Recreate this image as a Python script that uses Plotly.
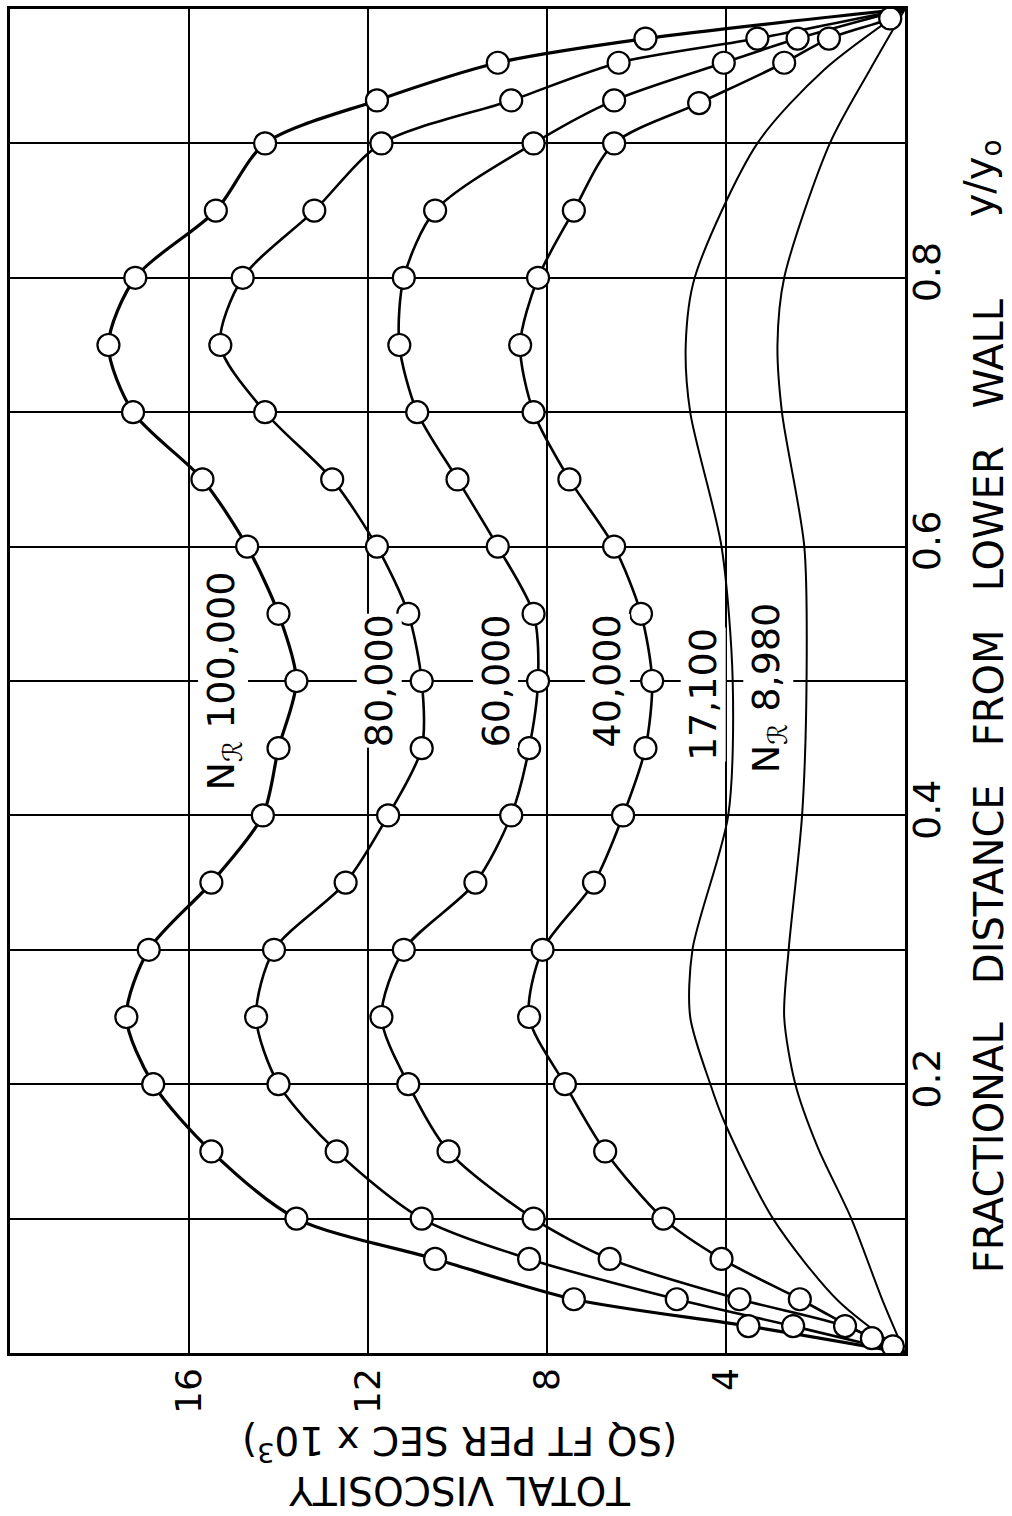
import plotly.graph_objects as go

# ---------------- data ----------------
# Fractional distance from lower wall (y/y0) and total viscosity (sq ft per sec x 10^3)
y_100k = [0.02, 0.04, 0.07, 0.10, 0.15, 0.20, 0.25, 0.30, 0.35, 0.40, 0.45, 0.50,
          0.55, 0.60, 0.65, 0.70, 0.75, 0.80, 0.85, 0.90, 0.932, 0.96, 0.978]
v_100k = [3.5, 7.4, 10.5, 13.6, 15.5, 16.8, 17.4, 16.9, 15.5, 14.35, 14.0, 13.6,
          14.0, 14.7, 15.7, 17.25, 17.8, 17.2, 15.4, 14.3, 11.8, 9.1, 5.8]

y_80k = [0.02, 0.04, 0.07, 0.10, 0.15, 0.20, 0.25, 0.30, 0.35, 0.40, 0.45, 0.50,
         0.55, 0.60, 0.65, 0.70, 0.75, 0.80, 0.85, 0.90, 0.932, 0.96, 0.978]
v_80k = [2.5, 5.1, 8.4, 10.8, 12.7, 14.0, 14.5, 14.1, 12.5, 11.55, 10.8, 10.8,
         11.1, 11.8, 12.8, 14.3, 15.3, 14.8, 13.2, 11.7, 8.8, 6.4, 3.3]

y_60k = [0.02, 0.04, 0.07, 0.10, 0.15, 0.20, 0.25, 0.30, 0.35, 0.40, 0.45, 0.50,
         0.55, 0.60, 0.65, 0.70, 0.75, 0.80, 0.85, 0.90, 0.932, 0.96, 0.978]
v_60k = [1.34, 3.7, 6.6, 8.3, 10.2, 11.1, 11.7, 11.2, 9.6, 8.8, 8.4, 8.2,
         8.3, 9.1, 10.0, 10.9, 11.3, 11.2, 10.5, 8.3, 6.5, 4.05, 2.4]

y_40k = [0.005, 0.011, 0.04, 0.07, 0.10, 0.15, 0.20, 0.25, 0.30, 0.35, 0.40, 0.45, 0.50,
         0.55, 0.60, 0.65, 0.70, 0.75, 0.80, 0.85, 0.90, 0.93, 0.96, 0.978, 0.993]
v_40k = [0.27, 0.74, 2.35, 4.1, 5.4, 6.7, 7.6, 8.4, 8.1, 6.95, 6.3, 5.8, 5.65,
         5.9, 6.5, 7.5, 8.3, 8.6, 8.2, 7.4, 6.5, 4.6, 2.7, 1.7, 0.33]

# curves drawn without points
y_17k = [0, 0.039, 0.10, 0.173, 0.20, 0.25, 0.30, 0.40, 0.50, 0.60, 0.70, 0.75, 0.80, 0.90, 0.955, 1.0]
v_17k = [0, 1.5, 2.95, 4.05, 4.35, 4.8, 4.75, 3.95, 3.85, 4.1, 4.8, 4.9, 4.7, 3.3, 1.8, 0]

y_9k = [0, 0.039, 0.10, 0.153, 0.20, 0.25, 0.30, 0.40, 0.50, 0.60, 0.70, 0.75, 0.80, 0.90, 0.955, 1.0]
v_9k = [0, 0.5, 1.2, 1.95, 2.45, 2.7, 2.6, 2.3, 2.2, 2.25, 2.75, 2.85, 2.7, 1.68, 0.78, 0]

series_labels = ["N<sub>ℛ</sub> 100,000", "80,000", "60,000", "40,000", "17,100", "N<sub>ℛ</sub> 8,980"]
label_x = [15.25, 11.75, 9.15, 6.65, 4.5, 3.05]
label_y = [0.50, 0.50, 0.50, 0.50, 0.49, 0.495]

x_ticks = [4, 8, 12, 16]
y_ticks = [0.2, 0.4, 0.6, 0.8]
y_minor = [0.1, 0.3, 0.5, 0.7, 0.9]

FONT = "DejaVu Sans"
SP = "\u00a0\u00a0 "

fig = go.Figure()

marked = [(y_100k, v_100k, 3.2), (y_80k, v_80k, 2.6), (y_60k, v_60k, 2.6), (y_40k, v_40k, 2.6)]
for ys, vs, w in marked:
    fig.add_trace(go.Scatter(
        x=[0] + vs + [0], y=[0] + ys + [1], mode="lines",
        line=dict(color="black", width=w, shape="spline", smoothing=0.8),
        hoverinfo="skip"))
for ys, vs in [(y_17k, v_17k), (y_9k, v_9k)]:
    fig.add_trace(go.Scatter(
        x=vs, y=ys, mode="lines",
        line=dict(color="black", width=2, shape="spline", smoothing=0.8),
        hoverinfo="skip"))
for ys, vs, w in marked:
    fig.add_trace(go.Scatter(
        x=vs, y=ys, mode="markers",
        marker=dict(size=22, color="white", line=dict(color="black", width=2.2)),
        hoverinfo="skip"))

for t, lx, ly in zip(series_labels, label_x, label_y):
    fig.add_annotation(x=lx, y=ly, xref="x", yref="y", text=t, textangle=-90,
                       xanchor="center", yanchor="middle",
                       showarrow=False, font=dict(family=FONT, size=38, color="black"),
                       bgcolor="white", borderpad=0)

# axis titles (chart is rotated 90 degrees)
fig.add_annotation(x=1.094, y=0.4217, xref="paper", yref="paper",
                   text="FRACTIONAL" + SP + "DISTANCE" + SP + "FROM" + SP + "LOWER" + SP + "WALL",
                   textangle=-90, showarrow=False, xanchor="center", yanchor="middle",
                   font=dict(family=FONT, size=40, color="black"))
fig.add_annotation(x=1.086, y=0.874, xref="paper", yref="paper",
                   text="y/y<sub>o</sub>", textangle=-90, showarrow=False,
                   xanchor="center", yanchor="middle",
                   font=dict(family=FONT, size=40, color="black"))
fig.add_annotation(x=0.503, y=-0.0835, xref="paper", yref="paper",
                   text="TOTAL VISCOSITY<br>(SQ FT PER SEC x 10<sup>3</sup>)",
                   textangle=180, showarrow=False, xanchor="center", yanchor="middle",
                   font=dict(family=FONT, size=39, color="black"))

fig.update_layout(
    width=1012, height=1516,
    margin=dict(l=10, r=107, t=6, b=163),
    plot_bgcolor="white", paper_bgcolor="white",
    showlegend=False,
    font=dict(family=FONT, color="black"),
)
fig.update_xaxes(
    range=[20, 0], tickvals=x_ticks, ticktext=[str(v) for v in x_ticks],
    tickangle=-90, tickfont=dict(size=36, family=FONT, color="black"),
    showgrid=True, gridcolor="black", gridwidth=1.5,
    showline=True, mirror=True, linecolor="black", linewidth=2.5,
    zeroline=False, ticks="", ticklabelstandoff=-2,
)
fig.update_yaxes(
    range=[0, 1], side="right", tickvals=y_ticks, ticktext=[f"{v:.1f}" for v in y_ticks],
    tickangle=-90, tickfont=dict(size=38, family=FONT, color="black"),
    showgrid=True, gridcolor="black", gridwidth=2,
    minor=dict(tickvals=y_minor, showgrid=True, gridcolor="black", gridwidth=2, ticks=""),
    showline=True, mirror=True, linecolor="black", linewidth=2.5,
    zeroline=False, ticks="", ticklabelstandoff=-13,
)

fig.write_html("out.html")
